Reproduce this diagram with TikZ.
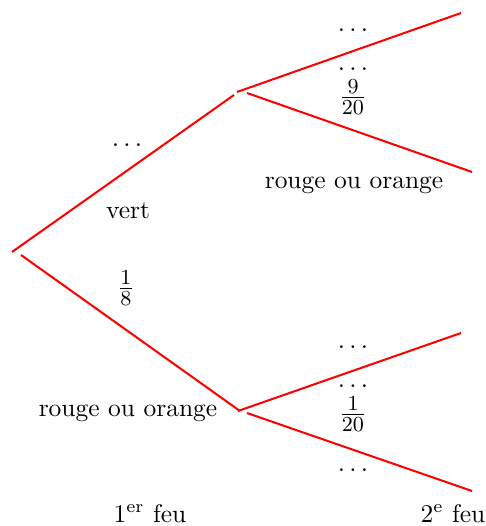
\documentclass[tikz,border=0pt]{standalone}
\usepackage{tikz}

\begin{document}
\begin{tikzpicture}[x=0.42pt, y=-0.42pt,
  font=\fontsize{10.7pt}{13pt}\selectfont,
  branche/.style={red, line width=0.85pt},
  proba/.style={inner sep=0pt},
  fraction/.style={inner sep=0pt, font=\fontsize{13pt}{15pt}\selectfont}]
\useasboundingbox (0,0) rectangle (485,526);
% first light: root and its two ends
\coordinate (rootA) at (12,252);
\coordinate (rootB) at (21,255);
\coordinate (vertIn) at (234,95);
\coordinate (rougeIn) at (240,411);
% second light: starts and leaves
\coordinate (vertUp) at (237,92);
\coordinate (vertDown) at (247,93);
\coordinate (rougeUp) at (238,411);
\coordinate (rougeDown) at (247,413);
\coordinate (leafA) at (461,13);
\coordinate (leafB) at (472,172);
\coordinate (leafC) at (461,333);
\coordinate (leafD) at (472,491);
% branches
\draw[branche] (rootA) -- (vertIn);
\draw[branche] (rootB) -- (rougeIn);
\draw[branche] (vertUp) -- (leafA);
\draw[branche] (vertDown) -- (leafB);
\draw[branche] (rougeUp) -- (leafC);
\draw[branche] (rougeDown) -- (leafD);
% labels of the first light
\node[proba] (pVert) at (127,145) {$\ldots$};
\node (vert) at (128,211) {vert};
\node[fraction] (pRouge) at (126,288) {$\frac{1}{8}$};
\node (rouge) at (128,413) {rouge ou orange};
% labels of the second light
\node[proba] (pVV) at (353,30) {$\ldots$};
\node[proba] (pVR) at (353,69) {$\ldots$};
\node[fraction] (pVRfrac) at (353,97) {$\frac{9}{20}$};
\node (vertRouge) at (354,185) {rouge ou orange};
\node[proba] (pRV) at (353,347) {$\ldots$};
\node[proba] (pRR) at (353,386) {$\ldots$};
\node[fraction] (pRRfrac) at (353,414) {$\frac{1}{20}$};
\node[proba] (pRX) at (353,470) {$\ldots$};
% steps
\node[proba, anchor=base] (feu1) at (150,522) {1\textsuperscript{er} feu};
\node[proba, anchor=base] (feu2) at (453,522) {2\textsuperscript{e} feu};
\end{tikzpicture}
\end{document}
